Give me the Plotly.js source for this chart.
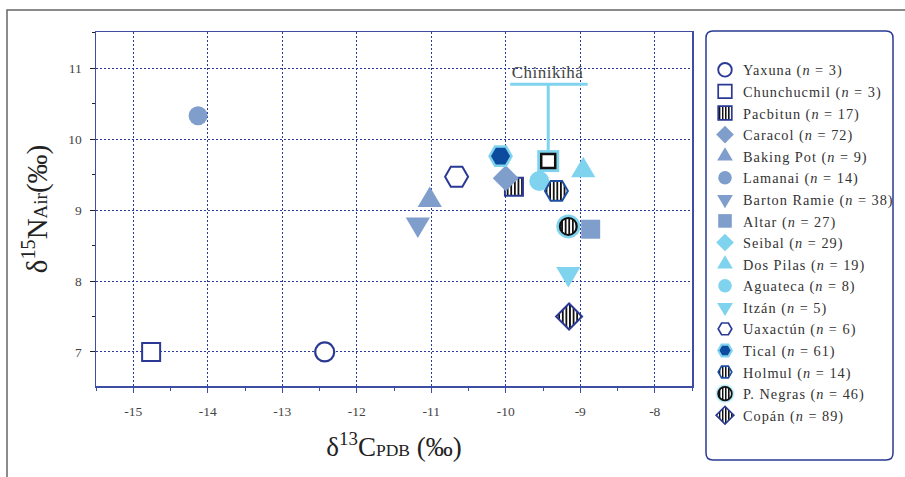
<!DOCTYPE html>
<html><head><meta charset="utf-8">
<script src="https://cdn.plot.ly/plotly-3.0.1.min.js"></script>
<style>html,body{margin:0;padding:0;background:#fff}#chart{width:905px;height:477px}</style>
</head><body><div id="chart"></div>
<script>
// ---- data ----
const sites = ["Yaxuna","Chunchucmil","Pacbitun","Caracol","Baking Pot","Lamanai","Barton Ramie","Altar","Seibal","Dos Pilas","Aguateca","Itzán","Uaxactún","Tical","Holmul","P. Negras","Copán"];
const nValues = [3,3,17,72,9,14,38,27,29,19,8,5,6,61,14,46,89];
const d13C = [-12.43,-14.76,-9.89,-10.00,-11.02,-14.13,-11.18,-8.86,-9.43,-8.96,-9.55,-9.16,-10.66,-10.07,-9.32,-9.16,-9.15];
const d15N = [7.00,7.00,9.33,9.45,9.14,10.33,8.80,8.73,9.69,9.56,9.41,8.10,9.47,9.76,9.27,8.77,7.50];
const chinikihaLabel = "Chinikihá";
const chinikihaC = [-9.43];
const chinikihaN = [9.69];
const chinikihaBarC = [-9.94, -8.90];
const chinikihaBarN = 10.775;
const xTicks = [-15,-14,-13,-12,-11,-10,-9,-8];
const yTicks = [7,8,9,10,11];

// ---- styles ----
const DARK='#2a3a94', MID='#809ecc', LIGHT='#7fd3ee', TICAL='#0d4b9e', HOL='#1f4fa3';
const styles = [
 {symbol:'circle', size:19, color:'#fff', line:{color:DARK,width:2.2}},
 {symbol:'square', size:18, color:'#fff', line:{color:DARK,width:2}},
 {symbol:'square', size:18, color:'#fff', line:{color:DARK,width:2}, stripes:true},
 {symbol:'diamond', size:20, color:MID, line:{width:0}},
 {symbol:'triangle-up', size:21, color:MID, line:{width:0}, tall:true},
 {symbol:'circle', size:19, color:MID, line:{width:0}},
 {symbol:'triangle-down', size:21, color:MID, line:{width:0}, tall:true},
 {symbol:'square', size:19, color:MID, line:{width:0}},
 {symbol:'diamond', size:16, color:LIGHT, line:{width:0}},
 {symbol:'triangle-up', size:21, color:LIGHT, line:{width:0}, tall:true},
 {symbol:'circle', size:20, color:LIGHT, line:{width:0}},
 {symbol:'triangle-down', size:21, color:LIGHT, line:{width:0}, tall:true},
 {symbol:'hexagon2', size:23, color:'#fff', line:{color:DARK,width:2}},
 {symbol:'hexagon2', size:22, color:TICAL, line:{color:LIGHT,width:2.5}},
 {symbol:'hexagon2', size:23, color:'#fff', line:{color:HOL,width:2}, stripes:true},
 {symbol:'circle', size:17, color:'#fff', line:{color:'#111',width:2}, stripes:true, backing:{symbol:'circle',size:24,color:LIGHT}},
 {symbol:'diamond', size:20, color:'#fff', line:{color:DARK,width:2}, stripes:true}
];

const traces = [];
const stripeTraceIdx = [], tallTraceIdx = [];
sites.forEach((s,i)=>{
  const st = styles[i];
  if (st.backing) {
    traces.push({type:'scatter', mode:'markers', x:[d13C[i]], y:[d15N[i]], showlegend:false, hoverinfo:'skip',
      marker:{symbol:st.backing.symbol, size:st.backing.size, color:st.backing.color, line:{width:0}}});
  }
  if (st.stripes) stripeTraceIdx.push(traces.length);
  if (st.tall) tallTraceIdx.push(traces.length);
  traces.push({type:'scatter', mode:'markers', x:[d13C[i]], y:[d15N[i]],
    name: s + ' (<i>n</i> = ' + nValues[i] + ')',
    marker:{symbol:st.symbol, size:st.size, color:st.color, line:st.line, opacity:1}});
});
// Chinikihá bracket + marker
traces.push({type:'scatter', mode:'lines', showlegend:false, hoverinfo:'skip',
  x:[chinikihaBarC[0], chinikihaBarC[1], null, chinikihaC[0], chinikihaC[0]],
  y:[chinikihaBarN, chinikihaBarN, null, chinikihaBarN, chinikihaN[0]],
  line:{color:LIGHT, width:3}});
traces.push({type:'scatter', mode:'markers', showlegend:false, hoverinfo:'skip', x:chinikihaC, y:chinikihaN,
  marker:{symbol:'square', size:22, color:LIGHT, line:{width:0}}});
traces.push({type:'scatter', mode:'markers', showlegend:false, hoverinfo:'skip', x:chinikihaC, y:chinikihaN,
  marker:{symbol:'square', size:14, color:'#fff', line:{color:'#111', width:2.5}}});

// pixel helpers for paper coords
const L=96, R=692, T=32, B=386, W=R-L, H=B-T;
const px = v => (v-L)/W, py = v => (B-v)/H;
function roundRect(x0,y0,x1,y1,r){
  const rx=r/W, ry=r/H;
  const X0=px(x0), X1=px(x1), Y0=py(y0), Y1=py(y1);
  return `M${X0+rx},${Y0} H${X1-rx} Q${X1},${Y0} ${X1},${Y0-ry} V${Y1+ry} Q${X1},${Y1} ${X1-rx},${Y1} H${X0+rx} Q${X0},${Y1} ${X0},${Y1+ry} V${Y0-ry} Q${X0},${Y0} ${X0+rx},${Y0} Z`;
}

const FONT = '"Liberation Serif", "Times New Roman", serif';
const layout = {
  width:905, height:477,
  margin:{l:L, r:905-R, t:T, b:477-B},
  paper_bgcolor:'#fff', plot_bgcolor:'#fff',
  font:{family:FONT, color:'#333', size:13},
  showlegend:true,
  legend:{x:px(705), y:py(54), xanchor:'left', yanchor:'top', bgcolor:'rgba(0,0,0,0)', borderwidth:0, maxheight:470,
    font:{family:FONT, size:14.3, color:'#333'}, itemclick:false, tracegroupgap:0},
  xaxis:{range:[-15.5,-7.5], tickvals:xTicks, ticktext:xTicks.map(String), showgrid:true, gridcolor:'#2a3a9a', gridwidth:1, griddash:'2px,2px',
    zeroline:false, showline:true, mirror:true, linecolor:'#3e4ea2', linewidth:1.5,
    ticks:'outside', ticklen:5, tickcolor:'#3e4ea2', tickfont:{family:FONT,size:13.5,color:'#444'}, ticklabelstandoff:7,
    minor:{dtick:0.5, ticks:'outside', ticklen:3, tickcolor:'#3e4ea2', showgrid:false},
    title:{text:'δ<sup>13</sup>C<span style="font-size:17.5px">PDB</span> (‰)', font:{family:FONT,size:27,color:'#222'}, standoff:19}},
  yaxis:{range:[6.52,11.51], tickvals:yTicks, ticktext:yTicks.map(String), showgrid:true, gridcolor:'#2a3a9a', gridwidth:1, griddash:'2px,2px',
    zeroline:false, showline:true, mirror:true, linecolor:'#3e4ea2', linewidth:1.5,
    ticks:'outside', ticklen:5, tickcolor:'#222', tickfont:{family:FONT,size:13.5,color:'#444'}, ticklabelstandoff:5,
    minor:{dtick:0.5, ticks:'outside', ticklen:3, tickcolor:'#222', showgrid:false},
    title:{text:'δ<sup>15</sup>N<span style="font-size:19px">Air</span>(‰)', font:{family:FONT,size:29,color:'#222'}, standoff:12}},
  annotations:[{x:chinikihaC[0], y:chinikihaBarN, xref:'x', yref:'y', text:chinikihaLabel, showarrow:false,
    yanchor:'bottom', yshift:0, font:{family:FONT, size:17, color:'#444'}}],
  shapes:[
    {type:'path', xref:'paper', yref:'paper', path:roundRect(706,31,893,460,7), line:{color:DARK, width:1.5}, fillcolor:'rgba(0,0,0,0)', layer:'above'},
    {type:'path', xref:'paper', yref:'paper', path:`M${px(7)},${py(477)} V${py(10)} H${px(906)}`, line:{color:'#666', width:1.5}, fillcolor:'rgba(0,0,0,0)'}
  ]
};

const gd = document.getElementById('chart');
Plotly.newPlot(gd, traces, layout, {staticPlot:true}).then(()=>{
  const svg = gd.querySelector('svg.main-svg');
  const ns='http://www.w3.org/2000/svg';
  const defs = document.createElementNS(ns,'defs');
  const pat = document.createElementNS(ns,'pattern');
  pat.setAttribute('id','vstripes'); pat.setAttribute('patternUnits','userSpaceOnUse');
  pat.setAttribute('width','3.6'); pat.setAttribute('height','10');
  const bg = document.createElementNS(ns,'rect');
  bg.setAttribute('width','3.6'); bg.setAttribute('height','10'); bg.setAttribute('fill','#fff');
  const st = document.createElementNS(ns,'rect');
  st.setAttribute('x','0'); st.setAttribute('width','1.8'); st.setAttribute('height','10'); st.setAttribute('fill','#111');
  pat.appendChild(bg); pat.appendChild(st); defs.appendChild(pat); svg.appendChild(defs);
  const addT = (p, t) => p.setAttribute('transform', (p.getAttribute('transform')||'') + ' ' + t);
  const tr = gd.querySelectorAll('.scatterlayer .trace');
  stripeTraceIdx.forEach(i=>{ tr[i].querySelectorAll('path.point').forEach(p=>{p.style.fill='url(#vstripes)';}); });
  tallTraceIdx.forEach(i=>{ tr[i].querySelectorAll('path.point').forEach(p=>addT(p,'scale(1,1.3)')); });
  const stripeNames = sites.filter((s,i)=>styles[i].stripes);
  const tallNames = sites.filter((s,i)=>styles[i].tall);
  gd.querySelectorAll('.legend [clip-path]').forEach(e=>e.removeAttribute('clip-path'));
  gd.querySelectorAll('.legend .traces').forEach(g=>{
    const txt = g.querySelector('.legendtext');
    const t = (txt||{}).textContent||'';
    if (txt) { txt.style.letterSpacing = '1px'; txt.setAttribute('x', String(parseFloat(txt.getAttribute('x')||'40') - 2)); }
    const pts = g.querySelectorAll('.legendpoints path');
    pts.forEach(p=>addT(p, tallNames.some(n=>t.startsWith(n)) ? 'scale(0.85,1.1)' : 'scale(0.85)'));
    if (stripeNames.some(n=>t.startsWith(n))) pts.forEach(p=>{p.style.fill='url(#vstripes)';});
    if (t.startsWith('P. Negras')) pts.forEach(p=>{p.style.filter='drop-shadow(0 0 1.5px '+LIGHT+') drop-shadow(0 0 1px '+LIGHT+')';});
  });
  const ann = gd.querySelector('.annotation-text');
  if (ann) ann.style.letterSpacing = '0.5px';
});
</script></body></html>
